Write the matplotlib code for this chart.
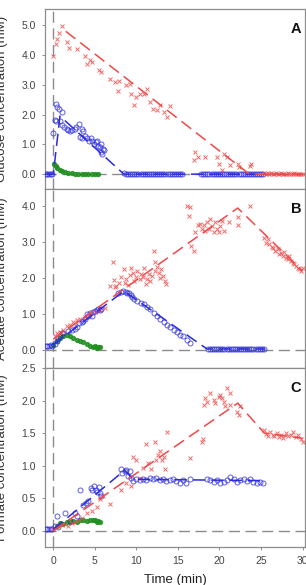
import matplotlib
matplotlib.use("Agg")
import matplotlib.pyplot as plt

plt.rcParams['font.family'] = ['Liberation Sans', 'DejaVu Sans']

# ---------------- Panel A : Glucose ----------------
a_red_t = [0.0, 0.3, 0.5, 0.7, 1.0, 1.6, 1.9, 2.9, 3.8, 4.1, 4.4, 4.7, 5.5, 5.8, 6.8, 7.4, 7.9, 7.8,
           8.8, 9.2, 9.4, 9.7, 10.0, 10.4, 10.9, 11.3, 11.7, 12.0, 12.5, 12.9, 13.3, 13.7, 14.0,
           17.0, 16.9, 17.4, 18.3, 19.7, 20.0, 20.3, 20.6, 20.9, 21.3, 22.2, 22.3, 23.7, 23.8,
           25.4, 25.6, 25.8, 26.0, 26.2, 26.4, 26.6, 26.8, 27.0, 27.2, 27.4, 27.6, 27.8, 28.0, 28.2,
           28.4, 28.6, 28.8, 29.0, 29.2, 29.4, 29.6, 29.8, 30.0]
a_red_v = [3.96, 4.38, 4.55, 4.74, 4.97, 4.44, 4.25, 4.20, 3.96, 3.71, 3.85, 3.77, 3.49, 3.43, 3.20, 3.09, 3.13, 2.81,
           2.98, 3.04, 2.68, 2.31, 2.59, 2.68, 2.68, 2.87, 2.42, 2.20, 2.14, 2.31, 2.09, 1.92, 2.28,
           0.74, 0.48, 0.57, 0.57, 0.57, 0.33, 0.15, 0.68, 0.57, 0.29, 0.33, 0.24, 0.27, 0.33,
           0.03, 0.02, 0.04, 0.02, 0.03, 0.01, 0.02, 0.03, 0.01, 0.02, 0.03, 0.02, 0.01, 0.02, 0.03,
           0.02, 0.01, 0.02, 0.03, 0.02, 0.01, 0.02, 0.02, 0.01]
a_red_fit_t = [1.5, 23.6, 30.0]
a_red_fit_v = [4.80, 0.0, 0.0]

a_blue_t = [-0.9, -0.7, -0.5, -0.3, -0.1,
            0.0, 0.2, 0.3, 0.5, 0.7, 1.1, 0.3, 0.8, 1.0, 1.3, 1.6, 1.8, 2.0, 2.3, 2.6, 2.7, 3.1, 3.4, 3.6,
            3.2, 3.5, 3.8, 4.1, 4.3, 4.5, 4.7, 4.9, 5.1, 5.3, 5.4, 5.6, 5.8, 6.0, 6.1, 5.7, 5.9,
            8.5, 8.75, 9.0, 9.25, 9.5, 9.75, 10.0, 10.25, 10.5, 10.75, 11.0, 11.25, 11.5, 11.75, 12.0,
            12.25, 12.5, 12.75, 13.0, 13.25, 13.5, 13.75, 14.0, 14.25, 14.5, 14.75, 15.0, 15.25, 15.5,
            17.8, 18.05, 18.3, 18.55, 18.8, 19.05, 19.3, 19.55, 19.8, 20.05, 20.3, 20.55, 20.8, 21.05,
            21.3, 21.55, 21.8, 22.05, 22.3, 22.55, 22.8, 23.05, 23.3, 23.55, 23.8, 24.05, 24.3, 24.55,
            24.8, 25.05, 25.3]
a_blue_v = [0.02, 0.02, 0.02, 0.02, 0.02,
            1.38, 1.83, 2.37, 2.25, 2.20, 2.09, 1.80, 1.80, 1.64, 1.58, 1.52, 1.47, 1.45, 1.47, 1.52, 1.60, 1.67, 1.52, 1.45,
            1.24, 1.22, 1.27, 1.22, 1.13, 1.22, 1.13, 1.00, 1.08, 1.13, 0.93, 0.91, 1.00, 0.85, 0.80, 0.74, 0.68,
            0.03, 0.01, 0.02, 0.01, 0.02, 0.01, 0.02, 0.01, 0.02, 0.01, 0.02, 0.01, 0.02, 0.01, 0.02,
            0.01, 0.02, 0.01, 0.02, 0.01, 0.02, 0.01, 0.02, 0.01, 0.02, 0.01, 0.02, 0.01, 0.02,
            0.02, 0.01, 0.02, 0.01, 0.02, 0.01, 0.02, 0.01, 0.02, 0.01, 0.02, 0.01, 0.02, 0.01,
            0.02, 0.01, 0.02, 0.01, 0.02, 0.01, 0.02, 0.01, 0.02, 0.01, 0.02, 0.01, 0.02, 0.01,
            0.02, 0.01, 0.02]
a_blue_fit_t = [-1.0, 0.0, 0.8, 8.5, 25.5]
a_blue_fit_v = [0.0, 0.0, 1.95, 0.0, 0.0]

a_green_t = [0.1, 0.3, 0.5, 0.8, 1.1, 1.4, 1.8, 2.2, 2.6, 3.0, 3.4, 3.8, 4.2, 4.6, 5.0, 5.4]
a_green_v = [0.33, 0.26, 0.20, 0.14, 0.10, 0.06, 0.04, 0.03, 0.02, 0.02, 0.01, 0.02, 0.01, 0.02, 0.01, 0.02]

# ---------------- Panel B : Acetate ----------------
b_red_t = [0.2, 0.5, 0.8, 1.2, 1.6, 2.0, 2.4, 2.8, 3.2, 3.8, 4.4, 5.0, 5.6, 6.2,
           7.2, 7.3, 6.8, 7.4, 7.6, 7.9, 8.2, 8.5, 8.6, 8.8, 9.0, 9.2, 9.4, 9.6, 9.7, 9.9, 10.1, 10.4, 10.5,
           10.8, 10.9, 11.1, 11.3, 11.5, 11.7, 11.9, 12.1, 12.2, 12.3, 12.5, 12.7, 12.8, 13.0, 13.2, 13.4, 13.6,
           16.1, 16.5, 16.3, 16.6, 16.9, 17.1, 17.4, 17.7, 17.9, 18.1, 18.3, 18.5, 18.7, 18.9, 19.1, 19.3,
           19.5, 19.7, 19.9, 20.1, 20.3, 20.6, 21.1, 22.2, 22.2, 23.7,
           25.4, 25.6, 25.8, 26.0, 26.3, 26.5, 26.7, 27.0, 27.2, 27.4, 27.6, 27.8, 28.0, 28.2, 28.4, 28.6,
           28.8, 29.0, 29.2, 29.4, 29.6, 29.8, 30.0]
b_red_v = [0.38, 0.46, 0.49, 0.57, 0.66, 0.71, 0.77, 0.83, 0.85, 0.92, 0.98, 1.05, 1.10, 1.18,
           2.45, 1.95, 1.78, 1.76, 1.78, 1.86, 2.04, 2.25, 1.87, 1.97, 1.80, 2.08, 2.27, 2.15, 1.92, 2.04, 2.20, 1.97, 2.11,
           2.04, 2.29, 1.83, 1.99, 2.11, 1.92, 2.06, 2.76, 2.45, 2.20, 2.32, 2.15, 2.01, 2.25, 2.06, 1.92, 1.83,
           4.02, 3.97, 3.74, 2.90, 2.76, 3.27, 3.48, 3.51, 3.37, 3.48, 3.32, 3.55, 3.38, 3.65, 3.46, 3.29,
           3.55, 3.38, 3.27, 3.46, 3.60, 3.32, 3.55, 3.69, 3.48, 4.00,
           3.13, 2.99, 3.09, 2.95, 2.88, 2.85, 2.76, 2.81, 2.67, 2.71, 2.62, 2.73, 2.57, 2.53, 2.62, 2.48,
           2.43, 2.39, 2.34, 2.29, 2.25, 2.20, 2.27]
b_red_fit_t = [0.0, 22.2, 30.0]
b_red_fit_v = [0.30, 3.95, 2.20]

b_blue_t = [-0.9, -0.7, -0.5, -0.3, -0.1, 0.2, 0.4, 0.6, 0.8, 1.0, 1.2,
            1.8, 2.2, 2.6, 2.8, 3.1, 3.4, 3.6, 3.8, 4.0, 4.2, 4.4, 4.6, 4.8, 5.0, 5.2, 5.4, 5.6, 5.8,
            7.8, 8.1, 8.4, 8.7, 8.9, 9.1, 9.3, 9.5, 9.7, 10.1, 10.5, 10.9, 11.3, 11.7, 12.1, 12.5, 12.9,
            13.3, 13.7, 14.1, 14.5, 14.9, 15.3, 15.6, 16.1, 16.5,
            18.6, 18.85, 19.1, 19.35, 19.6, 19.85, 20.1, 20.35, 20.6, 20.85, 21.1, 21.35, 21.6, 21.85,
            22.1, 22.35, 22.6, 22.85, 23.1, 23.35, 23.6, 23.85, 24.1, 24.35, 24.6, 24.85, 25.1, 25.35]
b_blue_v = [0.12, 0.12, 0.11, 0.13, 0.12, 0.18, 0.24, 0.34, 0.38, 0.48, 0.48,
            0.52, 0.57, 0.59, 0.64, 0.76, 0.77, 0.80, 0.85, 0.99, 0.96, 1.02, 0.96, 1.05, 1.08, 1.11, 1.13, 1.11, 1.15,
            1.58, 1.61, 1.63, 1.61, 1.58, 1.59, 1.52, 1.48, 1.43, 1.36, 1.31, 1.27, 1.20, 1.13, 1.03, 0.96, 0.87,
            0.77, 0.71, 0.64, 0.57, 0.49, 0.43, 0.38, 0.27, 0.20,
            0.03, 0.04, 0.03, 0.03, 0.04, 0.03, 0.03, 0.04, 0.03, 0.03, 0.04, 0.03, 0.03, 0.04,
            0.03, 0.03, 0.04, 0.03, 0.03, 0.04, 0.03, 0.03, 0.04, 0.03, 0.03, 0.04, 0.03, 0.03]
b_blue_fit_t = [0.0, 8.5, 18.5, 25.5]
b_blue_fit_v = [0.15, 1.64, 0.03, 0.03]

b_green_t = [0.0, 0.4, 0.8, 1.2, 1.6, 2.0, 2.4, 2.8, 3.2, 3.6, 4.0, 4.4, 4.8, 5.0, 5.2, 5.4, 5.6]
b_green_v = [0.15, 0.24, 0.34, 0.40, 0.43, 0.40, 0.34, 0.29, 0.24, 0.21, 0.18, 0.10, 0.08, 0.10, 0.07, 0.09, 0.08]

# ---------------- Panel C : Formate ----------------
c_red_t = [0.0, 0.6, 1.0, 1.4, 1.8, 2.2, 2.6, 3.0, 3.5, 4.0, 4.6, 5.2, 5.6, 6.0, 6.8,
           8.1, 8.8, 9.4, 9.6, 10.0, 10.4, 10.8, 11.2, 11.4, 11.8, 12.2, 12.4, 12.6, 12.9, 13.1, 13.3, 13.5, 13.7,
           16.5, 17.9, 18.0, 18.1, 18.3, 18.5, 18.9, 19.3, 19.5, 19.9, 20.1, 20.3, 20.5, 20.9, 21.3, 20.7, 21.3,
           22.1, 22.3, 22.5,
           25.4, 25.6, 25.8, 26.1, 26.4, 26.6, 26.9, 27.2, 27.4, 27.7, 28.0, 28.3, 28.6, 28.9, 29.2, 29.5, 29.8, 30.0]
c_red_v = [0.02, 0.07, 0.09, 0.11, 0.08, 0.12, 0.14, 0.17, 0.19, 0.27, 0.30, 0.37, 0.48, 0.53, 0.41,
           0.63, 0.73, 0.69, 1.14, 1.09, 0.81, 0.96, 1.34, 1.04, 0.95, 1.37, 1.09, 1.17, 1.22, 1.09, 1.14, 0.95, 1.52,
           1.12, 1.37, 1.41, 1.93, 2.04, 1.98, 2.11, 2.01, 1.96, 2.06, 2.09, 2.04, 1.97, 2.19, 2.11, 1.91, 1.93,
           1.82, 1.78, 1.91,
           1.55, 1.49, 1.46, 1.52, 1.47, 1.45, 1.50, 1.44, 1.47, 1.42, 1.50, 1.45, 1.47, 1.52, 1.44, 1.47, 1.41, 1.37]
c_red_fit_t = [0.0, 22.2, 25.4, 30.0]
c_red_fit_v = [0.0, 1.96, 1.50, 1.42]

c_blue_t = [-0.9, -0.7, -0.5, -0.3, -0.1, 0.2, 0.4, 0.6, 1.4, 2.0, 2.6, 2.8,
            3.2, 3.6, 3.9, 4.2, 4.5, 4.7, 4.9, 5.1, 5.3, 5.5, 5.6, 5.8,
            8.1, 8.3, 8.6, 8.8, 9.0, 9.2, 9.4, 9.6,
            10.0, 10.4, 10.8, 11.2, 11.6, 12.0, 12.4, 12.8, 13.2, 13.6, 14.0, 14.4, 14.8, 15.2, 15.6, 16.0, 16.5,
            18.5, 18.9, 19.3, 19.7, 20.1, 20.5, 20.9, 21.3, 21.7, 22.1, 22.5, 22.9, 23.3, 23.7, 24.1, 24.5, 24.9, 25.3]
c_blue_v = [0.03, 0.02, 0.03, 0.02, 0.03, 0.07, 0.22, 0.05, 0.27, 0.15, 0.28, 0.23,
            0.62, 0.40, 0.42, 0.45, 0.65, 0.63, 0.68, 0.63, 0.59, 0.67, 0.58, 0.53,
            0.95, 0.88, 0.91, 0.94, 0.84, 0.91, 0.81, 0.76,
            0.79, 0.78, 0.79, 0.78, 0.81, 0.79, 0.81, 0.78, 0.79, 0.76, 0.78, 0.79, 0.77, 0.74, 0.78, 0.73, 0.79,
            0.80, 0.78, 0.75, 0.78, 0.73, 0.75, 0.78, 0.83, 0.80, 0.75, 0.78, 0.79, 0.77, 0.80, 0.75, 0.74, 0.75, 0.73]
c_blue_fit_t = [0.0, 8.6, 9.6, 25.3]
c_blue_fit_v = [0.02, 0.93, 0.79, 0.77]

c_green_t = [0.4, 0.8, 1.2, 1.6, 2.0, 2.4, 2.8, 3.2, 3.6, 4.0, 4.4, 4.8, 5.0, 5.2, 5.4, 5.6]
c_green_v = [0.07, 0.12, 0.11, 0.13, 0.14, 0.15, 0.14, 0.16, 0.16, 0.15, 0.17, 0.17, 0.16, 0.13, 0.15, 0.14]

panel_letters = ["A", "B", "C"]
y_labels = ["Glucose concentration (mM)", "Acetate concentration (mM)", "Formate concentration (mM)"]
y_ticks = [[0.0, 1.0, 2.0, 3.0, 4.0, 5.0], [0.0, 1.0, 2.0, 3.0, 4.0], [0.0, 0.5, 1.0, 1.5, 2.0, 2.5]]
x_ticks = [0, 5, 10, 15, 20, 25, 30]

RED = "#f04848"
BLUE = "#2b2bdd"
GREEN = "#1f8f1f"
GRAY = "#8c8c8c"

W, H = 306, 585
fig = plt.figure(figsize=(W / 100, H / 100), dpi=100)

rects = [(9, 189), (189, 368), (368, 547)]
ylims = [(-0.5, 5.55), (-0.5, 4.48), (-0.25, 2.5)]
panels = [
    (a_red_t, a_red_v, a_red_fit_t, a_red_fit_v, a_blue_t, a_blue_v, a_blue_fit_t, a_blue_fit_v, a_green_t, a_green_v),
    (b_red_t, b_red_v, b_red_fit_t, b_red_fit_v, b_blue_t, b_blue_v, b_blue_fit_t, b_blue_fit_v, b_green_t, b_green_v),
    (c_red_t, c_red_v, c_red_fit_t, c_red_fit_v, c_blue_t, c_blue_v, c_blue_fit_t, c_blue_fit_v, c_green_t, c_green_v),
]

left_px, right_px = 45, 305
dash = (0, (8, 4))
for i, ((top, bot), data) in enumerate(zip(rects, panels)):
    rt, rv, rft, rfv, bt, bv, bft, bfv, gt, gv = data
    ax = fig.add_axes([left_px / W, (H - bot) / H, (right_px - left_px) / W, (bot - top) / H])
    ax.set_xlim(-1, 30.3)
    ax.set_ylim(*ylims[i])
    ax.axhline(0, color=GRAY, lw=1.0, ls=dash, zorder=1)
    ax.axvline(0, color=GRAY, lw=1.0, ls=dash, zorder=1)
    ax.plot(gt, gv, 'o', ms=2.8, color=GREEN, mec=GREEN, alpha=0.85, zorder=3)
    ax.plot(bt, bv, 'o', ms=3.6, mfc='none', mec=BLUE, mew=0.7, alpha=0.75, zorder=3)
    ax.plot(rt, rv, 'x', ms=2.6, color=RED, mew=0.7, alpha=0.8, zorder=3)
    ax.plot(bft, bfv, color=BLUE, lw=1.1, ls=dash, zorder=4)
    ax.plot(rft, rfv, color=RED, lw=1.1, ls=dash, zorder=4)
    ax.set_yticks(y_ticks[i])
    ax.set_yticklabels(["%.1f" % v for v in y_ticks[i]])
    ax.tick_params(axis='y', direction='out', length=2.5, width=0.7, color=GRAY,
                   labelsize=7.5, labelcolor="#444444", pad=4)
    ax.set_xticks(x_ticks)
    if i == 2:
        ax.tick_params(axis='x', direction='out', length=2.5, width=0.7, color=GRAY,
                       labelsize=7.5, labelcolor="#444444", pad=4)
    else:
        ax.tick_params(axis='x', length=0, labelbottom=False)
    for s in ax.spines.values():
        s.set_color(GRAY)
        s.set_linewidth(0.9)
    ax.text(0.985, 0.93, panel_letters[i], transform=ax.transAxes, ha='right', va='top',
            fontsize=10.5, fontweight='bold', color="#111111")
    fig.text(2 / W, (H - (top + bot) / 2) / H, y_labels[i], rotation=90, ha='center', va='center',
             fontsize=9.5, color="#333333")

fig.text(175 / W, 1 - 580 / H, "Time (min)", ha='center', va='center', fontsize=9.5, color="#222222")

fig.savefig("out.png", dpi=100)
